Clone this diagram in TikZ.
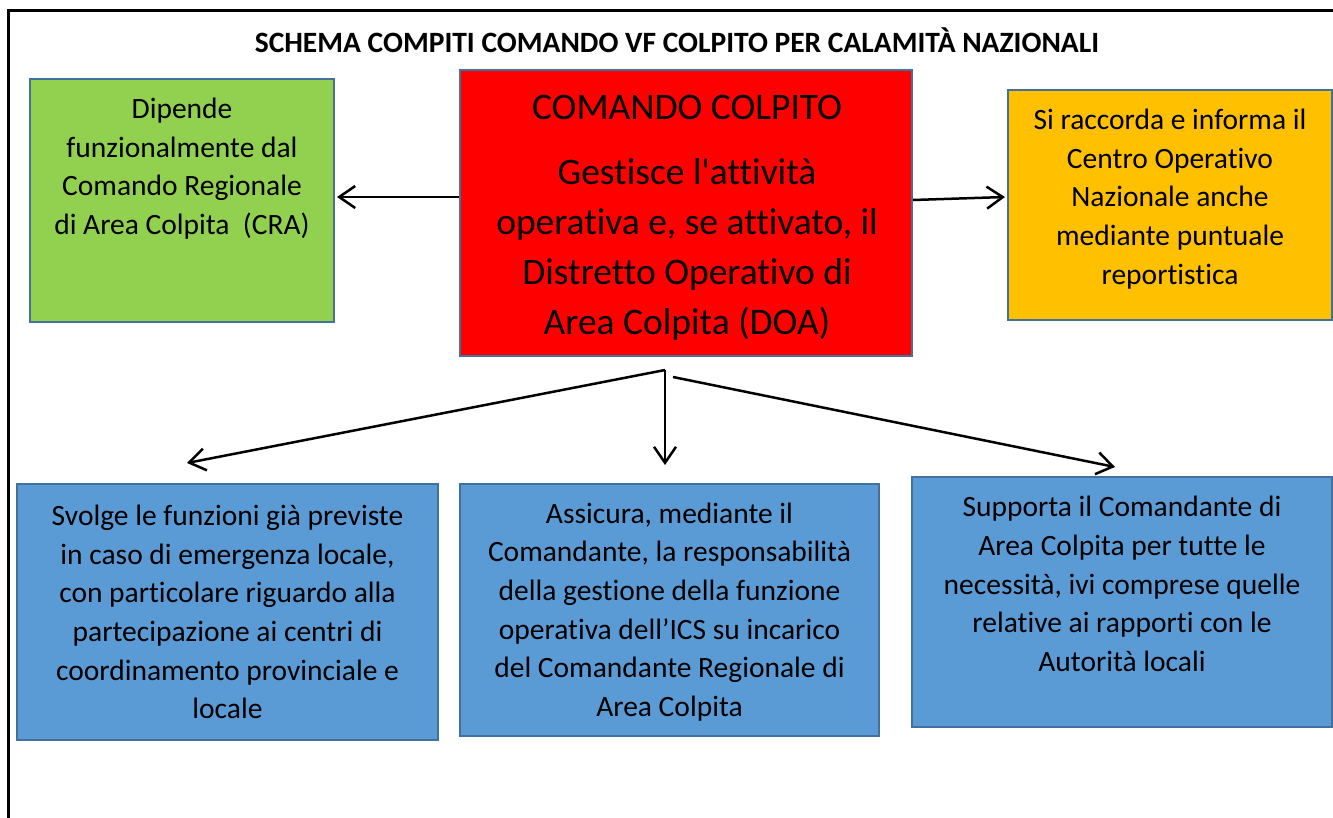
\documentclass[tikz,border=0pt]{standalone}
\usepackage{fontspec}
\setmainfont{Carlito}[Ligatures={NoCommon,TeXOff}]
\usetikzlibrary{arrows.meta}
\definecolor{bordc}{HTML}{41719C}
\definecolor{cgreen}{HTML}{92D050}
\definecolor{cred}{HTML}{FF0000}
\definecolor{corange}{HTML}{FFC000}
\definecolor{cblue}{HTML}{5B9BD5}
\tikzset{
  box/.style={draw=bordc, line width=2pt, inner sep=0pt, rectangle},
  txt/.style={align=center, inner sep=0pt, font=\fontsize{29.5}{38.6}\selectfont},
  arr/.style={line width=2.5pt, -{Straight Barb[length=16pt,width=22pt]}},
}
\begin{document}
\begin{tikzpicture}[x=1pt,y=-1pt]
\useasboundingbox (0,0) rectangle (1333,817);
% frame
\draw[line width=3pt] (8,820) -- (8,10) -- (1336,10);
% title
\node[inner sep=0pt, font=\fontsize{29.5}{36}\selectfont\bfseries] (title) at (677,40) {SCHEMA COMPITI COMANDO VF COLPITO PER CALAMITÀ NAZIONALI};
% boxes
\node[box, fill=cgreen, minimum width=304pt, minimum height=243pt] (g) at (182,200.5) {};
\node[box, fill=cred, minimum width=452pt, minimum height=286pt] (r) at (686,213) {};
\node[box, fill=corange, minimum width=324pt, minimum height=230pt] (o) at (1170,205) {};
\node[box, fill=cblue, minimum width=421pt, minimum height=256pt] (b1) at (227.5,612) {};
\node[box, fill=cblue, minimum width=419pt, minimum height=252pt] (b2) at (669.5,610) {};
\node[box, fill=cblue, minimum width=420pt, minimum height=250pt] (b3) at (1122,602) {};
% texts
\node[txt] (gt) at (182,168.5) {Dipende\\funzionalmente dal\\Comando Regionale\\di Area Colpita~~(CRA)};
\node[txt, font=\fontsize{37.5}{49.7}\selectfont] (rt) at (687,217.5) {COMANDO COLPITO\\[16pt]Gestisce l'attività\\operativa e, se attivato, il\\Distretto Operativo di\\Area Colpita (DOA)};
\node[txt] (ot) at (1170,199) {Si raccorda e informa il\\Centro Operativo\\Nazionale anche\\mediante puntuale\\reportistica};
\node[txt] (b1t) at (227.5,612) {Svolge le funzioni già previste\\in caso di emergenza locale,\\con particolare riguardo alla\\partecipazione ai centri di\\coordinamento provinciale e\\locale};
\node[txt] (b2t) at (669.5,612) {Assicura, mediante il\\Comandante, la responsabilità\\della gestione della funzione\\operativa dell’ICS su incarico\\del Comandante Regionale di\\Area Colpita};
\node[txt] (b3t) at (1122,584) {Supporta il Comandante di\\Area Colpita per tutte le\\necessità, ivi comprese quelle\\relative ai rapporti con le\\Autorità locali};
% connectors
\draw[arr] ([yshift=16pt]r.west) -- ([xshift=2pt,yshift=3.5pt]g.east);
\draw[arr] ([yshift=13pt]r.east) -- ([xshift=-2pt,yshift=8pt]o.west);
\coordinate (apex) at (665,370);
\coordinate (apexr) at (673,377);
\coordinate (t1) at (187,463);
\coordinate (t2) at (665,465);
\coordinate (t3) at (1115,467);
\draw[arr] (apex) -- (t1);
\draw[arr] (apex) -- (t2);
\draw[arr] (apexr) -- (t3);
\end{tikzpicture}
\end{document}
